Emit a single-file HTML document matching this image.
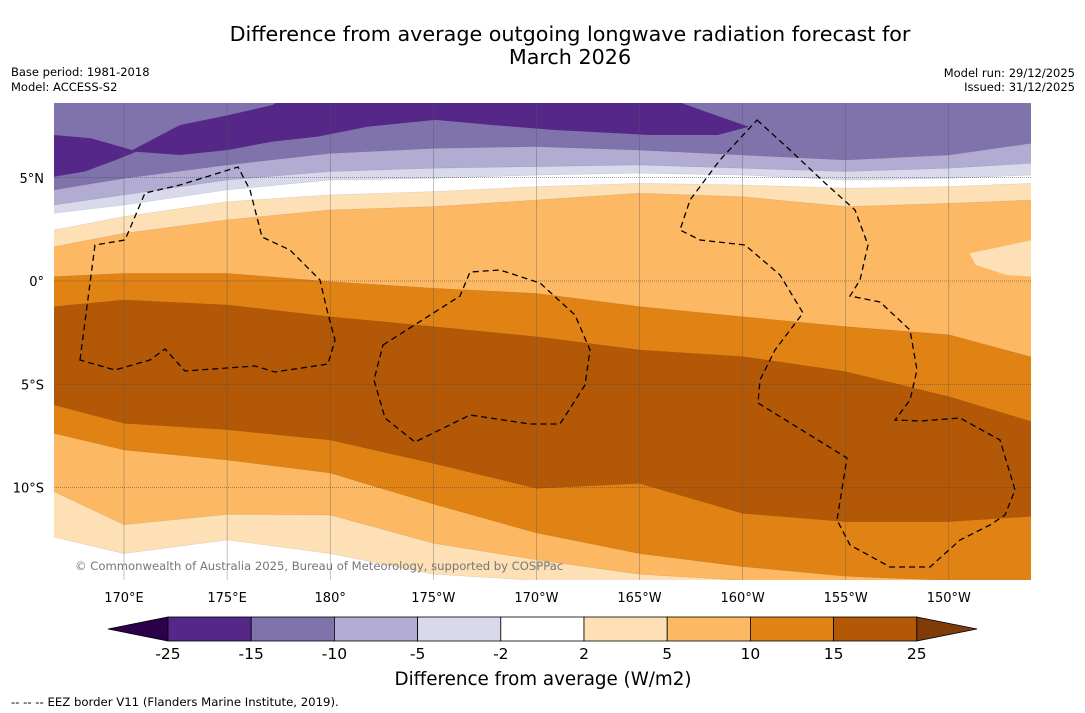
<!DOCTYPE html>
<html><head><meta charset="utf-8"><style>
body{margin:0;background:#fff;width:1085px;height:713px;overflow:hidden;font-family:"DejaVu Sans","Liberation Sans",sans-serif}
svg{display:block}
</style></head><body>
<svg id="c" width="1085" height="713">
<text x="570" y="41" text-anchor="middle" font-size="20.7">Difference from average outgoing longwave radiation forecast for</text>
<text x="570" y="64" text-anchor="middle" font-size="20.7">March 2026</text>
<text x="11" y="76" font-size="11.5">Base period: 1981-2018</text>
<text x="11" y="91" font-size="11.5">Model: ACCESS-S2</text>
<text x="1075" y="77" font-size="11.5" text-anchor="end">Model run: 29/12/2025</text>
<text x="1075" y="91" font-size="11.5" text-anchor="end">Issued: 31/12/2025</text>
<defs><clipPath id="mc"><rect x="54" y="103" width="977" height="477"/></clipPath></defs>
<g id="map" clip-path="url(#mc)"></g>
<g id="axes"></g>
<g id="cbar"></g>
<text x="543" y="685" text-anchor="middle" font-size="18.3">Difference from average (W/m2)</text>
<text x="11" y="706" font-size="11.7">--  --  -- EEZ border V11 (Flanders Marine Institute, 2019).</text>
</svg>
<script>
const lons=[166.6,170,175,180,185,190,195,200,205,210,214];
const bM10=[4.41,4.97,5.62,6.18,6.42,6.51,6.34,6.10,5.86,6.10,6.67];
const bM5=[3.68,4.17,4.89,5.30,5.46,5.54,5.62,5.46,5.30,5.46,5.70];
const bM2=[3.28,3.68,4.41,4.89,4.97,5.13,5.22,5.13,4.89,4.97,5.13];
const bP2=[2.47,3.12,3.84,4.17,4.33,4.57,4.73,4.65,4.49,4.57,4.73];
const bP5=[1.66,2.31,2.96,3.44,3.60,3.92,4.25,4.08,3.60,3.76,3.92];
const bP10=[0.21,0.37,0.37,-0.03,-0.35,-0.6,-1.24,-1.73,-2.21,-2.6,-3.68];
const bP15=[-1.24,-0.92,-1.16,-1.73,-2.21,-2.7,-3.34,-3.66,-4.39,-5.6,-6.81];
const bP15s=[-6.0,-6.89,-7.2,-7.7,-8.83,-10.04,-9.8,-11.25,-11.65,-11.65,-11.4];
const bP10s=[-7.38,-8.18,-8.67,-9.3,-10.8,-12.2,-13.2,-13.83,-14.3,-14.5,-14.7];
const bP5s=[-10.2,-11.8,-11.3,-11.33,-12.7,-13.5,-14.2,-14.5,-15,-15,-15];
const bP2s=[-12.4,-13.2,-12.54,-13.2,-14.2,-14.5,-15,-15,-15,-15,-15];
const darkLon=[166.6,168.4,170.4,172.7,175.1,177.2,177.7,196.4,198.2,200.3,198.8,195.5,190.9,187.9,185.1,181.8,179.4,177.2,175.0,172.7,170.6,169.6,168.1,166.6];
const darkLat=[7.07,6.91,6.34,7.55,8.04,8.52,8.85,8.85,8.20,7.47,7.07,7.07,7.31,7.55,7.80,7.47,6.99,6.75,6.34,6.10,6.26,5.86,5.30,5.05];
const blobLon=[214.1,211.0,211.3,212.8,214.1];
const blobLat=[1.99,1.34,0.78,0.29,0.21];
const lonTicks=[170,175,180,185,190,195,200,205,210];
const lonLabels=["170°E","175°E","180°","175°W","170°W","165°W","160°W","155°W","150°W"];
const latTicks=[5,0,-5,-10];
const latLabels=["5°N","0°","5°S","10°S"];
const cbLevels=["-25","-15","-10","-5","-2","2","5","10","15","25"];
const cbColors=["#542788","#8073ac","#b2abd2","#d8daeb","#ffffff","#fee0b6","#fdb863","#e08214","#b35806"];
const NS="http://www.w3.org/2000/svg";
const X=l=>124+(l-170)*20.62, Y=a=>281-a*20.65;
function mk(t,a,p){const e=document.createElementNS(NS,t);for(const k in a)e.setAttribute(k,a[k]);p.appendChild(e);return e;}
const map=document.getElementById('map');
const r=mk('rect',{x:54,y:103,width:977,height:477,fill:'#8073ac'},map);


function below(lat,col,name){let d='M'+X(lons[0])+','+Y(lat[0]);lons.forEach((l,i)=>d+=' L'+X(l)+','+Y(lat[i]));d+=' L1040,600 L40,600 Z';
 const p=mk('path',{d:d,fill:col,stroke:'#00000022','stroke-width':0.5},map);
 
 }
function poly(lo,la,col,name){const pts=lo.map((l,i)=>X(l)+','+Y(la[i])).join(' ');
 const p=mk('polygon',{points:pts,fill:col},map);
 
 }
poly(darkLon,darkLat,'#542788','band-minus25-minus15');
below(bM10,'#b2abd2','band-minus10-minus5');
below(bM5,'#d8daeb','band-minus5-minus2');
below(bM2,'#ffffff','band-minus2-2');
below(bP2,'#fee0b6','band-2-5');
below(bP5,'#fdb863','band-5-10');
poly(blobLon,blobLat,'#fee0b6','band-2-5-blob');
below(bP10,'#e08214','band-10-15');
below(bP15,'#b35806','band-15-25');
below(bP15s,'#e08214','band-10-15-south');
below(bP10s,'#fdb863','band-5-10-south');
below(bP5s,'#fee0b6','band-2-5-south');
below(bP2s,'#ffffff','band-minus2-2-south');
lonTicks.forEach(l=>{const g=mk('line',{x1:X(l),x2:X(l),y1:103,y2:580,stroke:'#555','stroke-width':0.5,'stroke-opacity':0.7},map);
 
 });
latTicks.forEach(a=>{const g=mk('line',{x1:54,x2:1031,y1:Y(a),y2:Y(a),stroke:'#444','stroke-width':0.6,'stroke-dasharray':'1,1'},map);
 
 });
const eez=["M80,360 L95,245 L125,240 L145,193 L180,185 L238,167 L250,190 L262,237 L290,250 L320,280 L327,310 L335,340 L328,364 L275,372 L255,366 L185,371 L165,349 L150,360 L115,370 Z",
"M383,345 L460,296 L470,272 L500,270 L540,283 L575,315 L590,350 L585,385 L560,424 L530,424 L470,415 L415,442 L385,418 L374,380 Z",
"M757,120 L790,150 L825,183 L855,210 L868,245 L860,280 L850,296 L880,302 L910,330 L917,370 L910,400 L895,420 L920,421 L960,418 L1000,440 L1015,490 L1005,515 L990,525 L960,540 L930,567 L890,567 L850,545 L837,520 L847,458 L758,403 L760,380 L775,350 L803,313 L780,275 L745,245 L700,240 L680,230 L690,200 L720,160 Z"];
eez.forEach(d=>{const p=mk('path',{d:d,fill:'none',stroke:'#000','stroke-width':1.3,'stroke-dasharray':'6,4'},map);
 
 });
const cp=mk('text',{x:75,y:570,'font-size':11.6,fill:'#777'},map);cp.textContent='© Commonwealth of Australia 2025, Bureau of Meteorology, supported by COSPPac';


const ax=document.getElementById('axes');
lonTicks.forEach((l,i)=>{const t=mk('text',{x:X(l),y:602,'font-size':13,'text-anchor':'middle'},ax);t.textContent=lonLabels[i];
 
 });
latTicks.forEach((a,i)=>{const t=mk('text',{x:44,y:Y(a)+5,'font-size':13,'text-anchor':'end'},ax);t.textContent=latLabels[i];
 
 });
const cb=document.getElementById('cbar');
const cx0=168,cw=83.2,cy=617,ch=24;
const lt=mk('polygon',{points:`108,629 ${cx0},${cy} ${cx0},${cy+ch}`,fill:'#2d004b',stroke:'#000','stroke-width':0.8},cb);


cbColors.forEach((c,i)=>{const b=mk('rect',{x:cx0+i*cw,y:cy,width:cw,height:ch,fill:c,stroke:'#000','stroke-width':0.8},cb);
 
 });
const xe=cx0+cbColors.length*cw;
const rt=mk('polygon',{points:`${xe},${cy} 977,629 ${xe},${cy+ch}`,fill:'#7f3b08',stroke:'#000','stroke-width':0.8},cb);


cbLevels.forEach((s,i)=>{const t=mk('text',{x:cx0+i*cw,y:659,'font-size':15.5,'text-anchor':'middle'},cb);t.textContent=s;
 
 });
</script>
</body></html>
